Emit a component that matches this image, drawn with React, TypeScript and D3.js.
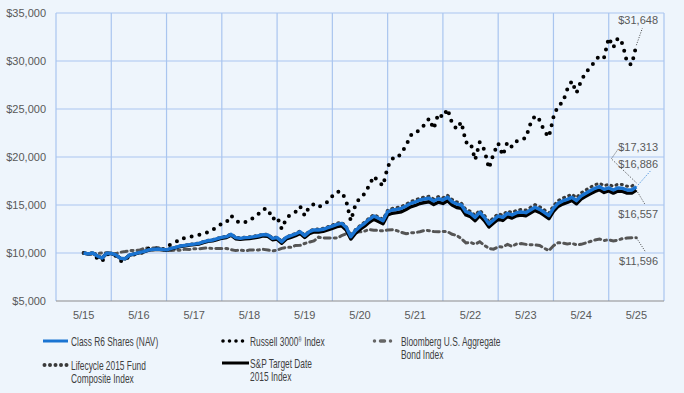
import React from 'react';
import * as d3 from 'd3';

const tickLabels = ['5/15', '5/16', '5/17', '5/18', '5/19', '5/20', '5/21', '5/22', '5/23', '5/24', '5/25'];
const yTicks = [5000, 10000, 15000, 20000, 25000, 30000, 35000];

// monthly values, 5/15 .. 5/25
const classR6 = [
  10000, 9900, 10000, 9690, 9480, 9970, 9950, 9800, 9450, 9400, 9800, 9900,
  10030, 10140, 10310, 10380, 10420, 10380, 10330, 10490, 10590, 10730, 10800, 10870,
  10930, 11000, 11150, 11280, 11350, 11490, 11630, 11700, 11950, 11600, 11530, 11600,
  11630, 11700, 11800, 11910, 11880, 11530, 11600, 11180, 11630, 11800, 11980, 12220,
  11800, 12220, 12400, 12400, 12470, 12640, 12810, 12990, 13090, 12670, 11700, 12330,
  12740, 13090, 13510, 13850, 13610, 13370, 14300, 14480, 14550, 14650, 14900, 15170,
  15310, 15520, 15620, 15700, 15420, 15650, 15520, 15800, 15350, 15100, 15000, 14300,
  14130, 13710, 14240, 13710, 13020, 13440, 13850, 13710, 14130, 13960, 14200, 14270,
  14200, 14480, 14760, 14550, 14240, 13890, 14650, 15170, 15420, 15590, 15800, 15450,
  15940, 16220, 16490, 16740, 16910, 16630, 16780, 16560, 16780, 16740, 16560, 16560,
  16886,
];

const russell3000 = [
  10000, 9830, 10000, 9400, 9130, 9850, 9910, 9700, 9160, 9160, 9800, 9860,
  10020, 10040, 10440, 10470, 10470, 10240, 10700, 10900, 11110, 11520, 11530, 11660,
  11780, 11880, 12110, 12130, 12420, 12700, 13080, 13210, 13910, 13390, 13130, 13180,
  13550, 13640, 14090, 14570, 14600, 13520, 13790, 12510, 13590, 14070, 14280, 14850,
  13890, 14860, 15080, 14770, 15030, 15350, 15930, 16390, 16370, 15450, 13350, 15000,
  15800, 16150, 17050, 18000, 17450, 17000, 18950, 19850, 19830, 20440, 21180, 22280,
  22390, 22950, 23340, 24020, 22940, 24500, 24130, 25000, 23500, 22910, 23650, 21520,
  21500, 19700, 21550, 20750, 18820, 20360, 21420, 20160, 21550, 21050, 21620, 21860,
  21970, 23460, 24310, 23850, 22700, 22090, 24140, 25380, 25660, 27040, 27910, 26680,
  27930, 28800, 29340, 29960, 30590, 30380, 32410, 31400, 32410, 31790, 29820, 29610,
  31648,
];

const bloombergAgg = [
  10000, 9890, 9960, 9950, 10020, 10020, 9990, 9940, 10080, 10150, 10240, 10280,
  10280, 10470, 10530, 10530, 10550, 10500, 10250, 10270, 10290, 10300, 10400, 10370,
  10450, 10440, 10500, 10530, 10470, 10480, 10460, 10470, 10350, 10250, 10310, 10230,
  10300, 10310, 10320, 10380, 10310, 10230, 10290, 10480, 10590, 10590, 10790, 10800,
  10990, 11130, 11250, 11650, 11580, 11560, 11550, 11560, 11800, 12000, 11950, 12150,
  12200, 12280, 12450, 12380, 12350, 12300, 12400, 12420, 12330, 12150, 12000, 12100,
  12130, 12220, 12350, 12330, 12230, 12220, 12250, 12220, 11950, 11820, 11500, 11050,
  11100, 10920, 11180, 10800, 10480, 10400, 10650, 10620, 10900, 10700, 10950, 10980,
  10900, 10860, 10850, 10780, 10500, 10250, 10750, 11070, 11040, 10950, 11000, 10850,
  10900, 11050, 11200, 11350, 11450, 11300, 11380, 11250, 11350, 11500, 11560, 11600,
  11596,
];

const lifecycle2015 = [
  10000, 9905, 10005, 9695, 9485, 9980, 9960, 9810, 9460, 9410, 9815, 9915,
  10045, 10160, 10330, 10400, 10445, 10405, 10355, 10520, 10620, 10760, 10830, 10905,
  10965, 11035, 11190, 11320, 11390, 11535, 11675, 11745, 12000, 11650, 11580, 11650,
  11685, 11755, 11855, 11970, 11940, 11590, 11660, 11235, 11690, 11860, 12045, 12290,
  11870, 12300, 12490, 12490, 12570, 12740, 12920, 13100, 13210, 12780, 11790, 12440,
  12860, 13220, 13650, 14000, 13760, 13520, 14460, 14650, 14730, 14830, 15090, 15370,
  15510, 15730, 15830, 15910, 15630, 15870, 15740, 16020, 15570, 15320, 15220, 14520,
  14350, 13930, 14470, 13940, 13250, 13680, 14090, 13950, 14380, 14210, 14460, 14530,
  14460, 14750, 15030, 14820, 14500, 14150, 14930, 15460, 15720, 15900, 16120, 15770,
  16270, 16560, 16840, 17100, 17280, 17000, 17160, 16940, 17170, 17130, 16950, 16960,
  17313,
];

const spTarget2015 = [
  10000, 9895, 9990, 9680, 9470, 9955, 9935, 9785, 9435, 9385, 9780, 9880,
  10005, 10110, 10280, 10345, 10385, 10340, 10290, 10445, 10540, 10680, 10745, 10815,
  10870, 10935, 11080, 11205, 11270, 11405, 11540, 11605, 11850, 11490, 11420, 11485,
  11510, 11575, 11670, 11775, 11740, 11380, 11445, 11020, 11460, 11625, 11800, 12030,
  11610, 12020, 12190, 12185, 12250, 12410, 12570, 12740, 12830, 12400, 11450, 12050,
  12450, 12790, 13200, 13530, 13290, 13040, 13960, 14140, 14200, 14300, 14540, 14810,
  14950, 15160, 15260, 15340, 15060, 15290, 15160, 15440, 14990, 14740, 14660, 13960,
  13790, 13370, 13900, 13380, 12700, 13120, 13530, 13390, 13810, 13640, 13880, 13950,
  13880, 14160, 14440, 14230, 13920, 13570, 14330, 14850, 15100, 15270, 15480, 15130,
  15620, 15900, 16170, 16420, 16590, 16310, 16460, 16240, 16460, 16420, 16240, 16240,
  16557,
];

const W = 684;
const H = 393;
const BG = '#eef5fc';
const GRID = '#a9c5ef';
const AXIS_TEXT = '#595959';
const BLUE = '#1a74d2';
const SANS = "Arial, 'Liberation Sans', sans-serif";

const x = d3.scaleLinear().domain([-6, 126]).range([56, 664]);
const y = d3.scaleLinear().domain([5000, 35000]).range([301, 13]);
const fmt = (v: number) => `$${d3.format(',')(v)}`;

const line = d3.line<number>().x((_, i) => x(i)).y((d) => y(d));

const last = classR6.length - 1;

const endLabels = [
  { value: russell3000[last], dy: -25, lead: [[6, -17]] },
  { value: lifecycle2015[last], dy: -36, lead: [[-25, -24], [-18, -34]] },
  { value: classR6[last], dy: -23, lead: [[15, -17]], color: BLUE },
  { value: spTarget2015[last], dy: 24, lead: [[9, 15]] },
  { value: bloombergAgg[last], dy: 23, lead: [[9, 14]] },
];

function LegendItem({ lx, ly, lines, mark }: { lx: number; ly: number; lines: React.ReactNode[]; mark: React.ReactNode }) {
  return (
    <g transform={`translate(${lx},${ly})`}>
      {mark}
      <g transform="translate(28,0) scale(0.67,1)">
        <text y={4.5} fontSize={12.5} fill="#404040" fontFamily={SANS}>
          {lines.map((t, i) => (
            <tspan key={i} x={0} dy={i === 0 ? 0 : 14}>{t}</tspan>
          ))}
        </text>
      </g>
    </g>
  );
}

export default function App() {
  const ex = x(last);
  return (
    <svg width={W} height={H} style={{ position: 'absolute', left: 0, top: 0, background: BG }}>
      <rect width={W} height={H} fill={BG} />

      {/* grid */}
      {d3.range(-6, 127, 12).map((m) => (
        <line key={`v${m}`} x1={x(m)} x2={x(m)} y1={y(35000)} y2={y(5000)} stroke={GRID} strokeWidth={1.2} />
      ))}
      {yTicks.map((t) => (
        <g key={t}>
          {t > 5000 && <line x1={x(-6)} x2={x(126)} y1={y(t)} y2={y(t)} stroke={GRID} strokeWidth={1.2} />}
          <text x={46} y={y(t) + 4} textAnchor="end" fontSize={11} fill={AXIS_TEXT} fontFamily={SANS}>
            {fmt(t)}
          </text>
        </g>
      ))}
      <line x1={x(-6)} x2={x(126)} y1={y(5000)} y2={y(5000)} stroke="#8c8c8c" strokeWidth={1.2} />
      {tickLabels.map((t, i) => (
        <text key={t} x={x(i * 12)} y={319} textAnchor="middle" fontSize={11} fill={AXIS_TEXT} fontFamily={SANS}>
          {t}
        </text>
      ))}

      {/* series */}
      <path d={line(bloombergAgg) ?? ''} fill="none" stroke="#555" strokeWidth={3} strokeDasharray="2 4 6 4" strokeLinecap="round" />
      <path d={line(russell3000) ?? ''} fill="none" stroke="#000" strokeWidth={4} strokeDasharray="0 8" strokeLinecap="round" strokeLinejoin="round" />
      <path d={line(spTarget2015) ?? ''} fill="none" stroke="#000" strokeWidth={3.4} strokeLinejoin="round" />
      <path d={line(lifecycle2015) ?? ''} fill="none" stroke="#3a3a3a" strokeWidth={3} strokeDasharray="1 4.5" strokeLinecap="round" />
      <path d={line(classR6) ?? ''} fill="none" stroke={BLUE} strokeWidth={3.4} strokeLinejoin="round" />

      {/* end labels */}
      {endLabels.map((l) => {
        const ey = y(l.value);
        const pts = [[ex, ey], ...l.lead.map(([dx, dy]) => [ex + dx, ey + dy])];
        return (
          <g key={l.value}>
            <polyline points={pts.map((p) => p.join(',')).join(' ')} fill="none" stroke={l.color ?? '#333'} strokeWidth={0.9} strokeDasharray="1 1.5" />
            <text x={658} y={ey + l.dy + 4} textAnchor="end" fontSize={11} fill={AXIS_TEXT} fontFamily={SANS}>
              {fmt(l.value)}
            </text>
          </g>
        );
      })}

      {/* legend */}
      <LegendItem lx={43} ly={341} lines={['Class R6 Shares (NAV)']}
        mark={<line x1={0} x2={25} y1={0} y2={0} stroke={BLUE} strokeWidth={3} />} />
      <LegendItem lx={222} ly={341}
        lines={[<>Russell 3000<tspan fontSize={7} dy={-4}>®</tspan><tspan dy={4}> Index</tspan></>]}
        mark={<line x1={1} x2={27} y1={0} y2={0} stroke="#000" strokeWidth={3.6} strokeDasharray="0 6.5" strokeLinecap="round" />} />
      <LegendItem lx={373} ly={341} lines={['Bloomberg U.S. Aggregate', 'Bond Index']}
        mark={<line x1={1.5} x2={23} y1={0} y2={0} stroke="#666" strokeWidth={3.5} strokeDasharray="0 6 4 6" strokeLinecap="round" />} />
      <LegendItem lx={43} ly={365} lines={['Lifecycle 2015 Fund', 'Composite Index']}
        mark={<line x1={1.5} x2={25} y1={0} y2={0} stroke="#3a3a3a" strokeWidth={4} strokeDasharray="0 5.5" strokeLinecap="round" />} />
      <LegendItem lx={222} ly={363} lines={['S&P Target Date', '2015 Index']}
        mark={<line x1={0} x2={27} y1={0} y2={0} stroke="#000" strokeWidth={3} />} />
    </svg>
  );
}
